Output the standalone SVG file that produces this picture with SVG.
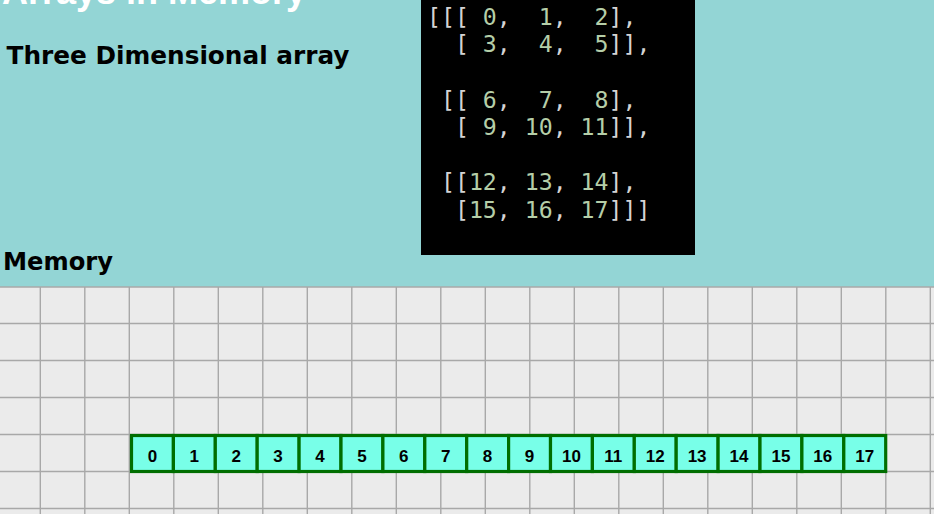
<svg xmlns="http://www.w3.org/2000/svg" width="934" height="514" viewBox="0 0 934 514">
<style>
.head{font-family:"DejaVu Sans","Liberation Sans",sans-serif;font-weight:bold;fill:#000}
.code{font-family:"DejaVu Sans Mono","Liberation Mono",monospace;font-size:23.2px;fill:#d4d4d4;white-space:pre}
.num{fill:#b5cea8}
.grid line{stroke:#a8a8a8;stroke-width:1.4}
.cell rect{fill:#78ffe8;stroke:#006e00;stroke-width:3.2}
.cell text{font-family:"Liberation Sans",Arial,sans-serif;font-weight:bold;font-size:17px;fill:#000;text-anchor:middle}
</style>
<rect x="0" y="0" width="934" height="287" fill="#93d5d5"/>
<rect x="0" y="287" width="934" height="227" fill="#ebebeb"/>
<g class="grid">
<line x1="0" y1="287" x2="934" y2="287"/>
<line x1="0" y1="323.5" x2="934" y2="323.5"/>
<line x1="0" y1="360.5" x2="934" y2="360.5"/>
<line x1="0" y1="397.5" x2="934" y2="397.5"/>
<line x1="0" y1="434.5" x2="934" y2="434.5"/>
<line x1="0" y1="471.5" x2="934" y2="471.5"/>
<line x1="0" y1="508.5" x2="934" y2="508.5"/>
<line x1="40.3" y1="287" x2="40.3" y2="514"/>
<line x1="84.8" y1="287" x2="84.8" y2="514"/>
<line x1="129.3" y1="287" x2="129.3" y2="514"/>
<line x1="173.8" y1="287" x2="173.8" y2="514"/>
<line x1="218.3" y1="287" x2="218.3" y2="514"/>
<line x1="262.8" y1="287" x2="262.8" y2="514"/>
<line x1="307.3" y1="287" x2="307.3" y2="514"/>
<line x1="351.8" y1="287" x2="351.8" y2="514"/>
<line x1="396.3" y1="287" x2="396.3" y2="514"/>
<line x1="440.8" y1="287" x2="440.8" y2="514"/>
<line x1="485.3" y1="287" x2="485.3" y2="514"/>
<line x1="529.8" y1="287" x2="529.8" y2="514"/>
<line x1="574.3" y1="287" x2="574.3" y2="514"/>
<line x1="618.8" y1="287" x2="618.8" y2="514"/>
<line x1="663.3" y1="287" x2="663.3" y2="514"/>
<line x1="707.8" y1="287" x2="707.8" y2="514"/>
<line x1="752.3" y1="287" x2="752.3" y2="514"/>
<line x1="796.8" y1="287" x2="796.8" y2="514"/>
<line x1="841.3" y1="287" x2="841.3" y2="514"/>
<line x1="885.8" y1="287" x2="885.8" y2="514"/>
<line x1="930.3" y1="287" x2="930.3" y2="514"/>
</g>
<g id="title">
<text x="2" y="4" font-family="'Liberation Sans',Arial,sans-serif" font-weight="bold" font-size="36" fill="#ffffff">Arrays in Memory</text>
</g>
<g id="subtitle">
<text class="head" x="6.5" y="64" font-size="24" textLength="343" lengthAdjust="spacingAndGlyphs">Three Dimensional array</text>
</g>
<g id="memory-label">
<text class="head" x="3" y="270" font-size="25" textLength="110" lengthAdjust="spacingAndGlyphs">Memory</text>
</g>
<g id="code-box">
<rect x="421" y="0" width="274" height="255" fill="#000"/>
<text class="code" x="427" y="25">[[[ <tspan class="num">0</tspan>,  <tspan class="num">1</tspan>,  <tspan class="num">2</tspan>],</text>
<text class="code" x="427" y="52">  [ <tspan class="num">3</tspan>,  <tspan class="num">4</tspan>,  <tspan class="num">5</tspan>]],</text>
<text class="code" x="427" y="107.5"> [[ <tspan class="num">6</tspan>,  <tspan class="num">7</tspan>,  <tspan class="num">8</tspan>],</text>
<text class="code" x="427" y="135">  [ <tspan class="num">9</tspan>, <tspan class="num">10</tspan>, <tspan class="num">11</tspan>]],</text>
<text class="code" x="427" y="190"> [[<tspan class="num">12</tspan>, <tspan class="num">13</tspan>, <tspan class="num">14</tspan>],</text>
<text class="code" x="427" y="217.5">  [<tspan class="num">15</tspan>, <tspan class="num">16</tspan>, <tspan class="num">17</tspan>]]]</text>
</g>
<g id="cell-0" class="cell"><rect x="131.5" y="435.5" width="41.9" height="36"/><text x="152.4" y="461.5">0</text></g>
<g id="cell-1" class="cell"><rect x="173.4" y="435.5" width="41.9" height="36"/><text x="194.3" y="461.5">1</text></g>
<g id="cell-2" class="cell"><rect x="215.3" y="435.5" width="41.9" height="36"/><text x="236.2" y="461.5">2</text></g>
<g id="cell-3" class="cell"><rect x="257.2" y="435.5" width="41.9" height="36"/><text x="278.1" y="461.5">3</text></g>
<g id="cell-4" class="cell"><rect x="299.1" y="435.5" width="41.9" height="36"/><text x="320" y="461.5">4</text></g>
<g id="cell-5" class="cell"><rect x="341" y="435.5" width="41.9" height="36"/><text x="361.9" y="461.5">5</text></g>
<g id="cell-6" class="cell"><rect x="382.9" y="435.5" width="41.9" height="36"/><text x="403.8" y="461.5">6</text></g>
<g id="cell-7" class="cell"><rect x="424.8" y="435.5" width="41.9" height="36"/><text x="445.7" y="461.5">7</text></g>
<g id="cell-8" class="cell"><rect x="466.7" y="435.5" width="41.9" height="36"/><text x="487.6" y="461.5">8</text></g>
<g id="cell-9" class="cell"><rect x="508.6" y="435.5" width="41.9" height="36"/><text x="529.5" y="461.5">9</text></g>
<g id="cell-10" class="cell"><rect x="550.5" y="435.5" width="41.9" height="36"/><text x="571.4" y="461.5">10</text></g>
<g id="cell-11" class="cell"><rect x="592.4" y="435.5" width="41.9" height="36"/><text x="613.3" y="461.5">11</text></g>
<g id="cell-12" class="cell"><rect x="634.3" y="435.5" width="41.9" height="36"/><text x="655.2" y="461.5">12</text></g>
<g id="cell-13" class="cell"><rect x="676.2" y="435.5" width="41.9" height="36"/><text x="697.1" y="461.5">13</text></g>
<g id="cell-14" class="cell"><rect x="718.1" y="435.5" width="41.9" height="36"/><text x="739" y="461.5">14</text></g>
<g id="cell-15" class="cell"><rect x="760" y="435.5" width="41.9" height="36"/><text x="780.9" y="461.5">15</text></g>
<g id="cell-16" class="cell"><rect x="801.9" y="435.5" width="41.9" height="36"/><text x="822.8" y="461.5">16</text></g>
<g id="cell-17" class="cell"><rect x="843.8" y="435.5" width="41.9" height="36"/><text x="864.7" y="461.5">17</text></g>
<g id="connectors"></g>
</svg>
